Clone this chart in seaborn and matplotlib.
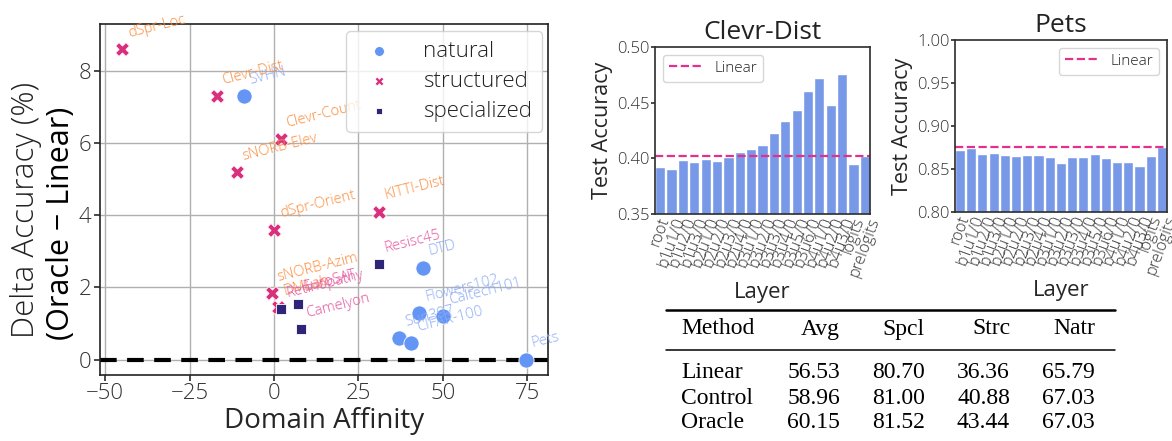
import numpy as np
import pandas as pd
import matplotlib.pyplot as plt
from matplotlib.lines import Line2D
import seaborn as sns

# scatter data: domain affinity vs delta accuracy
datasets = ['SVHN', 'DTD', 'Flowers102', 'Caltech101', 'Sun397', 'CIFAR-100', 'Pets',
            'dSpr-Loc', 'Clevr-Dist', 'Clevr-Count', 'sNORB-Elev', 'dSpr-Orient',
            'KITTI-Dist', 'sNORB-Azim', 'DMLab',
            'Resisc45', 'EuroSAT', 'Retinopathy', 'Camelyon']
groups = ['natural'] * 7 + ['structured'] * 8 + ['specialized'] * 4
affinity = [-9, 44, 43, 50, 37, 40.5, 74.5,
            -45, -17, 2, -11, 0, 31, -0.6, 1.2,
            31, 7, 2, 7.9]
delta_acc = [7.3, 2.55, 1.3, 1.2, 0.6, 0.45, 0.0,
             8.6, 7.3, 6.1, 5.2, 3.6, 4.1, 1.85, 1.45,
             2.65, 1.55, 1.4, 0.85]

# layer-wise bar data
layers = ['root', 'b1u1/0', 'b1u2/0', 'b1u3/0', 'b2u1/0', 'b2u2/0', 'b2u3/0', 'b2u4/0',
          'b3u1/0', 'b3u2/0', 'b3u3/0', 'b3u4/0', 'b3u5/0', 'b3u6/0',
          'b4u1/0', 'b4u2/0', 'b4u3/0', 'logits', 'prelogits']
clevr_acc = [0.3925, 0.3904, 0.3985, 0.3967, 0.3994, 0.3976, 0.4015, 0.4057,
             0.4084, 0.4120, 0.4228, 0.4336, 0.4434, 0.4605,
             0.4722, 0.4479, 0.4758, 0.3949, 0.4021]
clevr_linear = 0.4018
pets_acc = [0.8719, 0.8746, 0.8672, 0.8684, 0.8661, 0.8649, 0.8661, 0.8661,
            0.8637, 0.8567, 0.8637, 0.8637, 0.8672, 0.8626,
            0.8579, 0.8579, 0.8533, 0.8649, 0.8754]
pets_linear = 0.8755

# table
tbl_cols = ['Method', 'Avg', 'Spcl', 'Strc', 'Natr']
tbl_methods = ['Linear', 'Control', 'Oracle']
tbl_avg = ['56.53', '58.96', '60.15']
tbl_spcl = ['80.70', '81.00', '81.52']
tbl_strc = ['36.36', '40.88', '43.44']
tbl_natr = ['65.79', '67.03', '67.03']

sns.set_theme(style='white')
plt.rcParams['font.family'] = ['Open Sans', 'DejaVu Sans']
plt.rcParams['font.weight'] = 'light'
plt.rcParams['axes.edgecolor'] = '#333333'
plt.rcParams['text.color'] = '#222222'
plt.rcParams['xtick.color'] = '#333333'
plt.rcParams['ytick.color'] = '#333333'

fig = plt.figure(figsize=(11.72, 4.41), dpi=100)

# ---- scatter ----
ax = fig.add_axes([0.0853, 0.150, 0.382, 0.796])
df = pd.DataFrame({'dataset': datasets, 'group': groups,
                   'affinity': affinity, 'delta': delta_acc})
pal = {'natural': '#6495f5', 'structured': '#d9307e', 'specialized': '#2f2578'}
lab_col = {'natural': '#8cabf5', 'structured': '#fb8c3c', 'specialized': '#e4559d'}
mk = {'natural': 'o', 'structured': 'X', 'specialized': 's'}
sizes = {'natural': 120, 'structured': 100, 'specialized': 60}
for g in ['natural', 'structured', 'specialized']:
    sub = df[df.group == g]
    sns.scatterplot(data=sub, x='affinity', y='delta', color=pal[g], marker=mk[g],
                    s=sizes[g], edgecolor='white', linewidth=0.6, label=g, ax=ax, zorder=3)
for _, r in df.iterrows():
    ax.annotate(r['dataset'], (r['affinity'], r['delta']), xytext=(3, 6),
                textcoords='offset points', fontsize=10.5, color=lab_col[r['group']],
                rotation=14, ha='left', va='bottom', zorder=4)
ax.axhline(0, color='black', ls=(0, (4, 2.5)), lw=3, zorder=2)
ax.set_xlim(-51.5, 81)
ax.set_ylim(-0.42, 9.3)
ax.set_xticks([-50, -25, 0, 25, 50, 75])
ax.set_yticks([0, 2, 4, 6, 8])
ax.grid(True, color='#b0b0b0', lw=1)
ax.tick_params(labelsize=16, length=4, left=True, bottom=True, pad=2)
ax.set_xlabel('Domain Affinity', fontsize=20, labelpad=2)
ax.set_ylabel('')
fig.text(0.022, 0.524, 'Delta Accuracy (%)', rotation=90, fontsize=22.5,
         va='center', ha='center')
fig.text(0.052, 0.494, '(Oracle \u2212 Linear)', rotation=90, fontsize=22,
         fontweight='normal', va='center', ha='center', color='black')
leg = ax.legend(loc='upper right', fontsize=16, markerscale=0.65, handletextpad=1.0,
                borderpad=0.45, labelspacing=0.4, borderaxespad=0.25,
                bbox_to_anchor=(1.0, 0.995))
for sp in ax.spines.values():
    sp.set_color('#222222')
    sp.set_linewidth(1.2)

# ---- bar charts ----
def bar_panel(rect, vals, lin, title, ylim, yt):
    bx = fig.add_axes(rect)
    bdf = pd.DataFrame({'layer': layers, 'acc': vals})
    sns.barplot(data=bdf, x='layer', y='acc', color='#7898e8', saturation=1,
                width=0.9, ax=bx)
    bx.axhline(lin, color='#e4308a', ls='--', lw=1.6, label='Linear')
    bx.set_xlim(-0.45, len(layers) - 0.55)
    bx.set_ylim(*ylim)
    bx.set_yticks(yt)
    bx.set_yticklabels([f'{t:.2f}' for t in yt])
    bx.tick_params(axis='y', labelsize=12, length=3, left=True, pad=1)
    bx.tick_params(axis='x', labelsize=11.5, length=0, pad=1)
    plt.setp(bx.get_xticklabels(), rotation=70, ha='center')
    bx.set_title(title, fontsize=19, pad=6)
    bx.set_xlabel('Layer', fontsize=16, labelpad=2)
    bx.set_ylabel('Test Accuracy', fontsize=15.5, labelpad=3)
    for sp in bx.spines.values():
        sp.set_color('#333333')
    return bx

b1 = bar_panel([0.5589, 0.5147, 0.1834, 0.3787], clevr_acc, clevr_linear,
               'Clevr-Dist', (0.35, 0.50), [0.35, 0.40, 0.45, 0.50])
b1.legend(loc='upper left', fontsize=11, handlelength=2.2)
b2 = bar_panel([0.8148, 0.5193, 0.1809, 0.390], pets_acc, pets_linear,
               'Pets', (0.80, 1.00), [0.80, 0.85, 0.90, 0.95, 1.00])
b2.legend(loc='upper right', fontsize=11, handlelength=2.2)

# ---- table ----
serif = ['Liberation Serif', 'DejaVu Serif']
x_right = [1 / 1172 * v for v in [840, 925, 1010, 1095]]
x_left = 681 / 1172
def fy(py):
    return 1 - py / 441
fig.add_artist(Line2D([666 / 1172, 1115 / 1172], [fy(310), fy(310)], color='black', lw=1.8))
fig.add_artist(Line2D([666 / 1172, 1115 / 1172], [fy(350), fy(350)], color='black', lw=1.1))
tfs = 17
fig.text(x_left, fy(329), tbl_cols[0], family=serif, fontsize=tfs, fontweight='normal',
         va='center', ha='left', color='black')
for c, xr in zip(tbl_cols[1:], x_right):
    fig.text(xr, fy(329), c, family=serif, fontsize=tfs, fontweight='normal',
             va='center', ha='right', color='black')
for i, m in enumerate(tbl_methods):
    yy = fy(373 + 25 * i)
    fig.text(x_left, yy, m, family=serif, fontsize=tfs, fontweight='normal',
             va='center', ha='left', color='black')
    for col, xr in zip([tbl_avg, tbl_spcl, tbl_strc, tbl_natr], x_right):
        fig.text(xr, yy, col[i], family=serif, fontsize=tfs, fontweight='normal',
                 va='center', ha='right', color='black')

fig.savefig('out.png', dpi=100)
